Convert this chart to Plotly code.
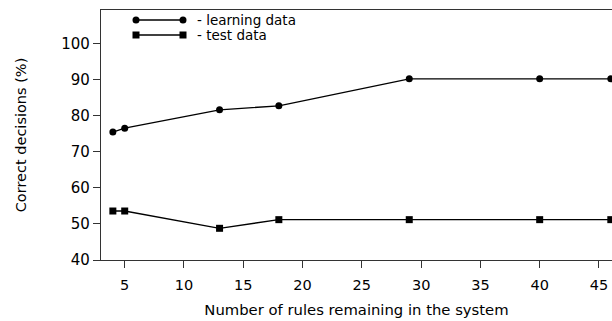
import plotly.graph_objects as go

rules = [4, 5, 13, 18, 29, 40, 46]
learning = [75.5, 76.6, 81.7, 82.8, 90.3, 90.3, 90.3]
test = [53.6, 53.6, 48.8, 51.2, 51.2, 51.2, 51.2]
legend_labels = ["- learning data", "- test data"]
x_ticks = [5, 10, 15, 20, 25, 30, 35, 40, 45]
y_ticks = [40, 50, 60, 70, 80, 90, 100]

FONT = "DejaVu Sans, Liberation Sans, Arial, sans-serif"

fig = go.Figure()
fig.add_trace(go.Scatter(x=rules, y=learning, mode="lines+markers",
                         line=dict(color="black", width=1.3),
                         marker=dict(symbol="circle", size=7, color="black"),
                         cliponaxis=False, showlegend=False))
fig.add_trace(go.Scatter(x=rules, y=test, mode="lines+markers",
                         line=dict(color="black", width=1.3),
                         marker=dict(symbol="square", size=7, color="black"),
                         cliponaxis=False, showlegend=False))

# custom legend (line with a marker at each end)
W, H, L, T = 511, 250, 101, 10
def px(xp):
    return (xp - L) / W
def py(yp):
    return (T + H - yp) / H

rows = [(20.0, "circle"), (35.0, "rect")]
for (yp, shp), label in zip(rows, legend_labels):
    x0, x1 = px(136), px(183)
    y = py(yp)
    fig.add_shape(type="line", xref="paper", yref="paper", x0=x0, x1=x1, y0=y, y1=y,
                  line=dict(color="black", width=1.3))
    for xa in (x0, x1):
        fig.add_shape(type=shp, xref="paper", yref="paper",
                      xsizemode="pixel", ysizemode="pixel",
                      xanchor=xa, yanchor=y, x0=-3.5, x1=3.5, y0=-3.5, y1=3.5,
                      fillcolor="black", line=dict(color="black", width=0))
    fig.add_annotation(xref="paper", yref="paper", x=px(195), y=y, text=label,
                       showarrow=False, xanchor="left", yanchor="middle",
                       font=dict(family=FONT, size=13.5, color="black"))

fig.update_layout(
    width=612, height=321,
    margin=dict(l=101, r=0, t=10, b=61),
    paper_bgcolor="white", plot_bgcolor="white",
    font=dict(family=FONT, size=14, color="black"),
    xaxis=dict(range=[3.0, 46.1], tickvals=x_ticks, ticks="outside", ticklen=7,
               tickwidth=1, tickcolor="#333", showline=True, linecolor="#333",
               linewidth=1.3, mirror=True, showgrid=False, zeroline=False,
               tickfont=dict(size=14.5), ticklabelstandoff=4,
               title=dict(text="Number of rules remaining in the system",
                          font=dict(size=14.8), standoff=13)),
    yaxis=dict(range=[40, 109.4], tickvals=y_ticks, ticks="outside", ticklen=7,
               tickwidth=1, tickcolor="#333", showline=True, linecolor="#333",
               linewidth=1.3, showgrid=False, zeroline=False,
               tickfont=dict(size=15),
               title=dict(text="Correct decisions (%)", font=dict(size=14.5),
                          standoff=31)),
)

fig.write_html("out.html", config={"displayModeBar": False},
               post_script="document.body.style.margin='0';document.body.style.padding='0';")
